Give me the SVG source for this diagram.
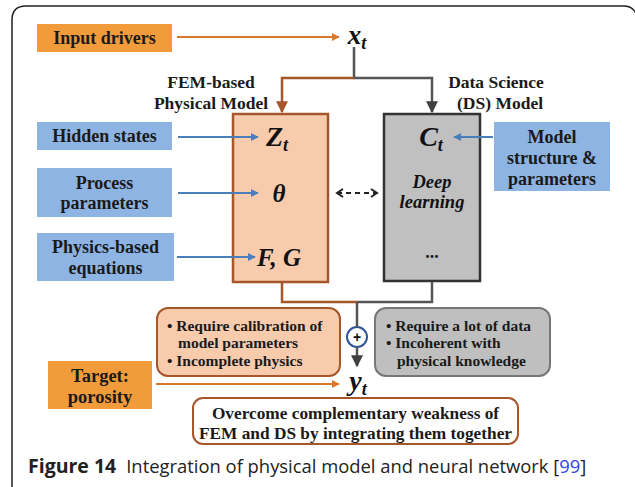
<svg xmlns="http://www.w3.org/2000/svg" width="635" height="487" viewBox="0 0 635 487">
<defs>
<style>
.lbl{font-family:"Liberation Serif",serif;font-weight:bold;fill:#1a1a1a;text-anchor:middle}
.math{font-family:"Liberation Serif",serif;font-weight:bold;font-style:italic;fill:#111;text-anchor:middle}
.bul{font-family:"Liberation Serif",serif;font-weight:bold;font-size:15.5px;fill:#1a1a1a}
.orange{fill:#F29B3B}
.blue{fill:#8EB4E3}
.cap{font-family:"Open Sans",sans-serif;fill:#222}
</style>
<marker id="aO" viewBox="0 0 10 10" refX="9" refY="5" markerWidth="8" markerHeight="8" markerUnits="userSpaceOnUse" orient="auto"><path d="M0,0 L10,5 L0,10 z" fill="#D9772B"/></marker>
<marker id="aB" viewBox="0 0 10 10" refX="9" refY="5" markerWidth="8" markerHeight="8" markerUnits="userSpaceOnUse" orient="auto"><path d="M0,0 L10,5 L0,10 z" fill="#4A7EBB"/></marker>
<marker id="aBr" viewBox="0 0 10 10" refX="9" refY="5" markerWidth="12" markerHeight="12" markerUnits="userSpaceOnUse" orient="auto"><path d="M0,0 L10,5 L0,10 z" fill="#A5562B"/></marker>
<marker id="aG" viewBox="0 0 10 10" refX="9" refY="5" markerWidth="12" markerHeight="12" markerUnits="userSpaceOnUse" orient="auto"><path d="M0,0 L10,5 L0,10 z" fill="#404040"/></marker>
<marker id="aV" viewBox="0 0 10 10" refX="8" refY="5" markerWidth="10" markerHeight="10" markerUnits="userSpaceOnUse" orient="auto-start-reverse"><path d="M2,1 L8,5 L2,9" fill="none" stroke="#222" stroke-width="2"/></marker>
</defs>
<rect width="635" height="487" fill="#fff"/>
<path d="M12,487 Q12,482 12,476 L12,20 Q12,6 26,6 L624,6 Q633,6 636,14" fill="none" stroke="#222" stroke-width="1.5"/>

<g id="input-drivers"><rect x="37" y="24" width="135" height="28" class="orange"/><text x="104.5" y="44" class="lbl" font-size="18">Input drivers</text></g>
<g id="xt"><text x="357" y="44" class="math" font-size="27">x<tspan font-size="18" dy="5">t</tspan></text></g>

<g id="fem-label"><text x="211" y="88" class="lbl" font-size="17.5">FEM-based</text><text x="211" y="109" class="lbl" font-size="17.5">Physical Model</text></g>
<g id="ds-label"><text x="496" y="88" class="lbl" font-size="17.5">Data Science</text><text x="500" y="109" class="lbl" font-size="17.5">(DS) Model</text></g>

<g id="hidden-states"><rect x="37" y="122" width="135" height="28" class="blue"/><text x="104.5" y="142" class="lbl" font-size="18">Hidden states</text></g>
<g id="process-parameters"><rect x="37" y="168" width="135" height="49" class="blue"/><text x="104.5" y="189" class="lbl" font-size="18">Process</text><text x="104.5" y="209" class="lbl" font-size="18">parameters</text></g>
<g id="physics-equations"><rect x="37" y="233" width="137" height="48" class="blue"/><text x="105.5" y="253" class="lbl" font-size="18">Physics-based</text><text x="105.5" y="274" class="lbl" font-size="18">equations</text></g>
<g id="model-structure"><rect x="494" y="122" width="116" height="69" class="blue"/><text x="552" y="143" class="lbl" font-size="18">Model</text><text x="552" y="164" class="lbl" font-size="18">structure &amp;</text><text x="552" y="185" class="lbl" font-size="18">parameters</text></g>

<g id="fem-model"><rect x="233" y="114" width="95" height="168" fill="#F8CBAD" stroke="#A5562B" stroke-width="2.5"/>
<text x="277" y="146" class="math" font-size="28">Z<tspan font-size="18" dy="5">t</tspan></text>
<text x="279" y="202" class="math" font-size="25">θ</text>
<text x="279" y="266" class="math" font-size="25">F, G</text></g>

<g id="ds-model"><rect x="384" y="114" width="96" height="167" fill="#C0C0C0" stroke="#333" stroke-width="2.5"/>
<text x="431" y="146" class="math" font-size="28">C<tspan font-size="18" dy="5">t</tspan></text>
<text x="432" y="188" class="math" font-size="18.5">Deep</text>
<text x="432" y="208" class="math" font-size="18.5">learning</text>
<text x="432" y="258" class="lbl" font-size="18">...</text></g>

<g id="fem-weakness"><rect x="157" y="308" width="183" height="68" rx="11" fill="#F8CBAD" stroke="#A5562B" stroke-width="2"/>
<text x="167" y="331" class="bul">• Require calibration of</text>
<text x="178" y="348" class="bul">model parameters</text>
<text x="167" y="366" class="bul">• Incomplete physics</text></g>

<g id="plus"><circle cx="357" cy="337" r="10" fill="#fff" stroke="#2F5597" stroke-width="2"/><text x="357" y="342" font-family="Liberation Sans,sans-serif" font-weight="bold" font-size="14" fill="#111" text-anchor="middle">+</text></g>

<g id="ds-weakness"><rect x="375" y="308" width="175" height="68" rx="11" fill="#BFBFBF" stroke="#777" stroke-width="2"/>
<text x="386" y="331" class="bul">• Require a lot of data</text>
<text x="386" y="348" class="bul">• Incoherent with</text>
<text x="397" y="366" class="bul">physical knowledge</text></g>

<g id="target"><rect x="48" y="361" width="104" height="48" class="orange"/><text x="100" y="382" class="lbl" font-size="18.5">Target:</text><text x="100" y="403" class="lbl" font-size="18.5">porosity</text></g>
<g id="yt"><text x="358" y="390" class="math" font-size="28">y<tspan font-size="18" dy="5">t</tspan></text></g>

<g id="conclusion"><rect x="193" y="398" width="325" height="46" rx="10" fill="#fff" stroke="#A5562B" stroke-width="2"/>
<text x="355.5" y="419" class="lbl" font-size="17.3">Overcome complementary weakness of</text>
<text x="355.5" y="439" class="lbl" font-size="17.3">FEM and DS by integrating them together</text></g>

<g id="connectors" fill="none">
<line x1="177" y1="37" x2="339" y2="37" stroke="#D9772B" stroke-width="2" marker-end="url(#aO)"/>
<polyline points="354,47 354,78 432,78 432,112" stroke="#555" stroke-width="2.5" marker-end="url(#aG)"/>
<polyline points="354,78 282,78 282,112" stroke="#A5562B" stroke-width="2.5" marker-end="url(#aBr)"/>
<line x1="178" y1="137" x2="258" y2="137" stroke="#4A7EBB" stroke-width="2" marker-end="url(#aB)"/>
<line x1="178" y1="193" x2="258" y2="193" stroke="#4A7EBB" stroke-width="2" marker-end="url(#aB)"/>
<line x1="177" y1="257" x2="255" y2="257" stroke="#4A7EBB" stroke-width="2" marker-end="url(#aB)"/>
<line x1="493" y1="137" x2="454" y2="137" stroke="#4A7EBB" stroke-width="2" marker-end="url(#aB)"/>
<line x1="337" y1="193" x2="377" y2="193" stroke="#222" stroke-width="2.2" stroke-dasharray="5,4" marker-start="url(#aV)" marker-end="url(#aV)"/>
<polyline points="282,283 282,302 357,302" stroke="#A5562B" stroke-width="2.5"/>
<polyline points="432,282 432,302 357,302" stroke="#555" stroke-width="2.5"/>
<line x1="357" y1="302" x2="357" y2="327" stroke="#555" stroke-width="2.5"/>
<line x1="357" y1="347" x2="357" y2="366" stroke="#555" stroke-width="2.5" marker-end="url(#aG)"/>
<line x1="156" y1="384" x2="339" y2="384" stroke="#D9772B" stroke-width="2" marker-end="url(#aO)"/>
</g>

<g id="caption"><text x="28" y="473" class="cap" font-size="18.4"><tspan font-weight="bold" font-size="19.5">Figure 14</tspan><tspan dx="10">Integration of physical model and neural network [</tspan><tspan fill="#3344EE">99</tspan>]</text></g>
</svg>
